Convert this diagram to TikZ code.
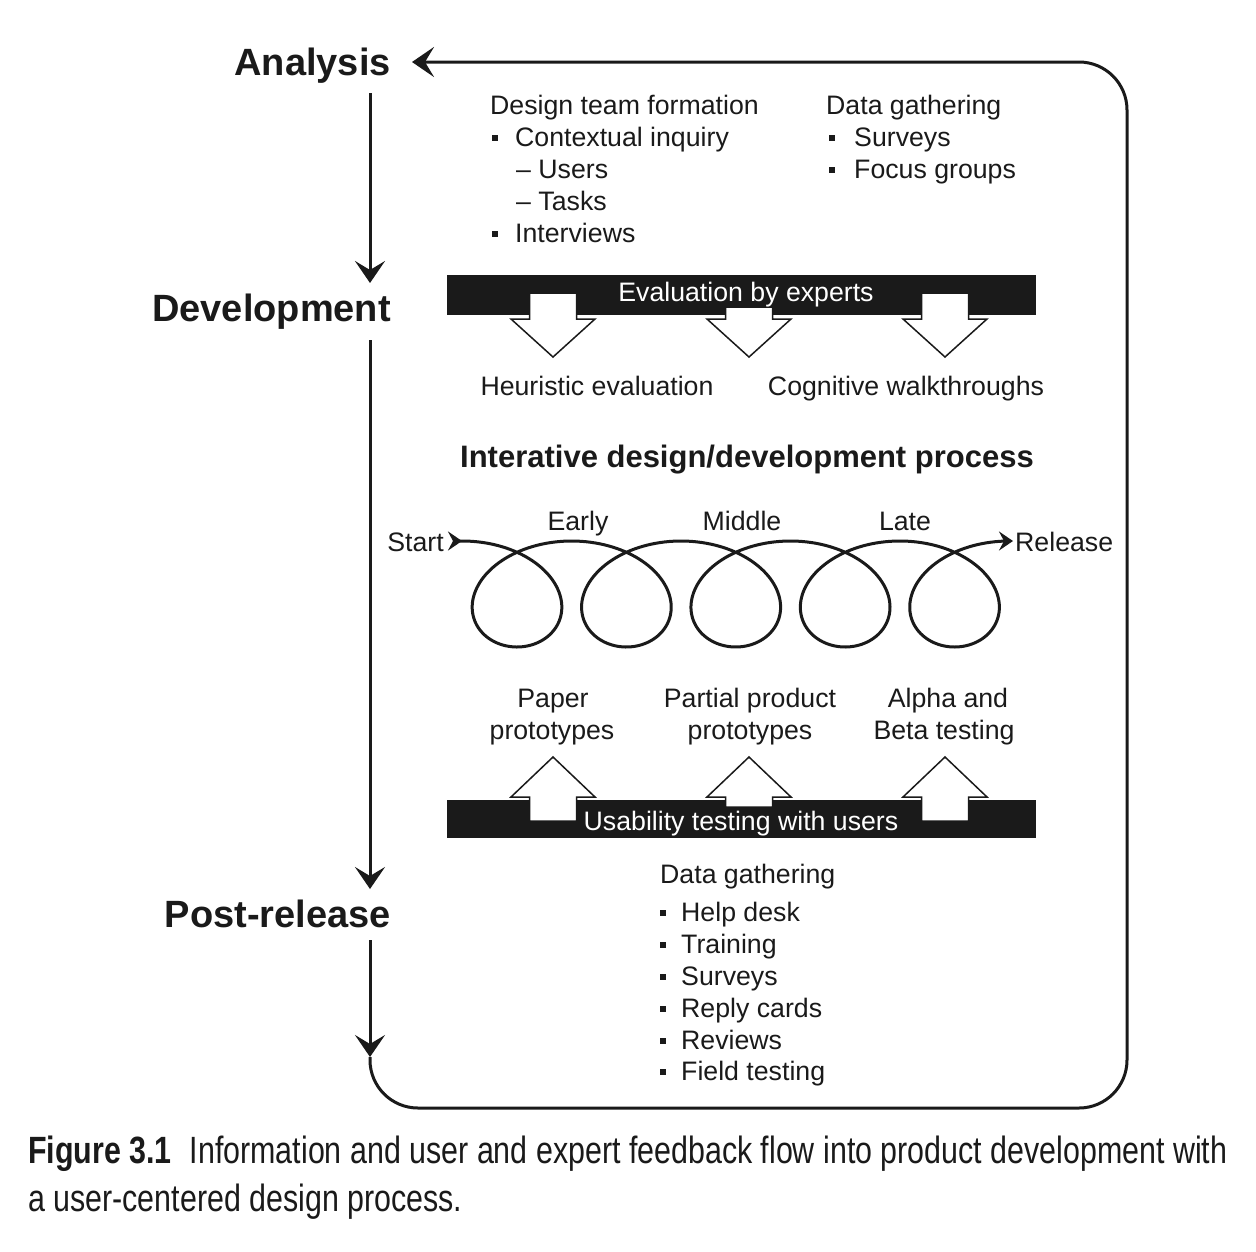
\documentclass[tikz,border=0pt]{standalone}
\usepackage{fontspec}
\setmainfont{Liberation Sans}
\newfontfamily\capfont[FakeStretch=0.8]{Liberation Sans}
\usetikzlibrary{arrows.meta}
\definecolor{ink}{HTML}{1A1A1A}
\newcommand\bsq{\rule[5pt]{6pt}{6pt}}
\tikzset{
  bigtip/.tip={Stealth[length=22pt,width=30pt,inset=9pt]},
  smalltip/.tip={Stealth[length=14pt,width=19pt,inset=5pt]},
  smallrev/.tip={Stealth[length=14pt,width=19pt,inset=5pt,reversed]},
}
\begin{document}
\begin{tikzpicture}[x=1pt,y=-1pt,
  txt/.style={font=\fontsize{26.7}{32}\selectfont, inner sep=0pt, text=ink},
  lt/.style={txt, anchor=base west},
  ct/.style={txt, anchor=base},
  wt/.style={font=\fontsize{26.7}{32}\selectfont, inner sep=0pt, text=white, anchor=base},
  stage/.style={font=\fontsize{38}{44}\selectfont\bfseries, inner sep=0pt, text=ink, anchor=base east},
  heading/.style={font=\fontsize{31}{36}\selectfont\bfseries, inner sep=0pt, text=ink, anchor=base},
  captxt/.style={font=\capfont\fontsize{38}{48}\selectfont, inner sep=0pt, text=ink, anchor=base west},
  mainln/.style={draw=ink, line width=3pt},
  bar/.style={fill=ink, inner sep=0pt, anchor=north west, minimum width=589pt, minimum height=40pt},
  blockarrow/.style={draw=ink, fill=white, line width=1.5pt, line join=miter},
  spir/.style={draw=ink, line width=3pt},
]
\useasboundingbox (0,0) rectangle (1256,1251);

% stage labels
\node[stage] (analysis) at (391,75.5) {Analysis};
\node[stage] (development) at (391,321) {Development};
\node[stage] (postrelease) at (391,927) {Post-release};

% vertical flow
\coordinate (v1s) at (370,93);
\coordinate (v1e) at (370,283);
\coordinate (v2s) at (370,340);
\coordinate (v2e) at (370,889);
\coordinate (v3s) at (370,940);
\coordinate (v3e) at (370,1057);
\coordinate (atip) at (412,62);
\draw[mainln, -{bigtip}] (v1s) -- (v1e);
\draw[mainln, -{bigtip}] (v2s) -- (v2e);
\draw[mainln, -{bigtip}] (v3s) -- (v3e);
\draw[mainln, rounded corners=48pt, -{bigtip}] (v3e) -- (370,1108) -- (1127,1108) -- (1127,62) -- (atip);

% analysis lists
\node[lt] (dtf) at (490,114) {Design team formation};
\node[lt] (ci) at (492,146) {\bsq\hspace{17pt}Contextual inquiry};
\node[lt] (us) at (516,178) {– Users};
\node[lt] (ta) at (516,210) {– Tasks};
\node[lt] (iv) at (492,242) {\bsq\hspace{17pt}Interviews};
\node[lt] (dg1) at (826,114) {Data gathering};
\node[lt] (sv1) at (829,146) {\bsq\hspace{19pt}Surveys};
\node[lt] (fg) at (829,178) {\bsq\hspace{19pt}Focus groups};

% evaluation by experts bar
\node[bar] (evalbar) at (447,275) {};
\foreach \cx/\st in {553/293, 749/307, 945/293}{
  \draw[blockarrow] ({\cx-23.5},\st) -- ({\cx+23.5},\st) -- ({\cx+23.5},319) -- ({\cx+42},319)
    -- (\cx,357) -- ({\cx-42},319) -- ({\cx-23.5},319) -- cycle;
}
\node[wt] (evaltxt) at (746,301) {Evaluation by experts};
\node[ct] (heur) at (597,395) {Heuristic evaluation};
\node[ct] (cogw) at (906,395) {Cognitive walkthroughs};

% iterative process
\node[heading] (iter) at (747,467) {Interative design/development process};
\node[ct] (early) at (578,530) {Early};
\node[ct] (middle) at (742,530) {Middle};
\node[ct] (late) at (905,530) {Late};
\node[txt, anchor=base east] (start) at (444,551) {Start};
\node[txt, anchor=base west] (release) at (1015,551) {Release};
\coordinate (sps) at (448,541);
\coordinate (spe) at (1013,541);
\draw[spir, {smallrev}-{smalltip}] (sps) -- plot[domain=-3.14159:28.27433, samples=600, variable=\t]
  ({517+17.41*\t-70*sin(\t r)},{594+53*cos(\t r)}) -- (spe);

% prototypes labels
\node[ct] (paper) at (553,707) {Paper};
\node[ct] (proto1) at (552,739) {prototypes};
\node[ct] (partial) at (750,707) {Partial product};
\node[ct] (proto2) at (750,739) {prototypes};
\node[ct] (alpha) at (948,707) {Alpha and};
\node[ct] (beta) at (944,739) {Beta testing};

% usability testing bar
\node[bar, minimum height=38pt] (usebar) at (447,800) {};
\foreach \cx/\sb in {553/821, 749/807, 945/821}{
  \draw[blockarrow] ({\cx-23.5},\sb) -- ({\cx+23.5},\sb) -- ({\cx+23.5},797) -- ({\cx+42},797)
    -- (\cx,757) -- ({\cx-42},797) -- ({\cx-23.5},797) -- cycle;
}
\node[wt] (usetxt) at (741,830) {Usability testing with users};

% post-release data gathering
\node[lt] (dg2) at (660,883) {Data gathering};
\node[lt] (hd) at (660,921) {\bsq\hspace{15pt}Help desk};
\node[lt] (tr) at (660,953) {\bsq\hspace{15pt}Training};
\node[lt] (sv2) at (660,985) {\bsq\hspace{15pt}Surveys};
\node[lt] (rc) at (660,1017) {\bsq\hspace{15pt}Reply cards};
\node[lt] (rv) at (660,1049) {\bsq\hspace{15pt}Reviews};
\node[lt] (ft) at (660,1080) {\bsq\hspace{15pt}Field testing};

% caption
\node[captxt] (cap1) at (28,1163) {\textbf{Figure 3.1}\hspace{18pt}Information and user and expert feedback flow into product development with};
\node[captxt] (cap2) at (28,1211) {a user-centered design process.};
\end{tikzpicture}
\end{document}
